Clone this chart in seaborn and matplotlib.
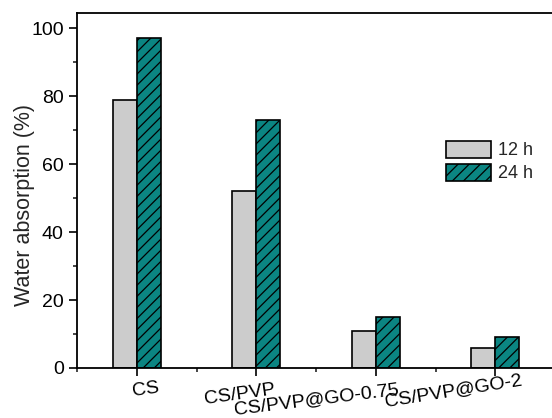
import matplotlib
matplotlib.use("Agg")
import matplotlib.pyplot as plt
import matplotlib.transforms as mtransforms
from matplotlib.ticker import MultipleLocator
from matplotlib.patches import Patch
import seaborn as sns
import pandas as pd

samples = ["CS", "CS/PVP", "CS/PVP@GO-0.75", "CS/PVP@GO-2"]
absorption_12h = [79, 52, 11, 6]
absorption_24h = [97, 73, 15, 9]
durations = ["12 h", "24 h"]

df = pd.DataFrame({
    "sample": samples * 2,
    "duration": [durations[0]] * len(samples) + [durations[1]] * len(samples),
    "absorption": absorption_12h + absorption_24h,
})

sns.set_style("white")
plt.rcParams["font.family"] = ["Liberation Sans", "DejaVu Sans"]
plt.rcParams["hatch.color"] = "#1a1a1a"
plt.rcParams["hatch.linewidth"] = 0.9

fig = plt.figure(figsize=(5.52, 4.18), dpi=100)
ax = fig.add_axes([77 / 552, 50 / 418, 478 / 552, 355 / 418])

palette = {"12 h": "#cccccc", "24 h": "#0b8582"}
sns.barplot(data=df, x="sample", y="absorption", hue="duration",
            palette=palette, width=0.4, edgecolor="black", linewidth=1.2,
            saturation=1, ax=ax, legend=False)

n = len(samples)
for i, bar in enumerate(ax.patches[:2 * n]):
    if i >= n:
        bar.set_hatch("///")

ax.set_xlim(-0.5, 3.5)
ax.set_ylim(0, 104.5)
ax.yaxis.set_major_locator(MultipleLocator(20))
ax.yaxis.set_minor_locator(MultipleLocator(10))
ax.xaxis.set_minor_locator(MultipleLocator(0.5))

for s in ax.spines.values():
    s.set_linewidth(1.3)
    s.set_color("black")

ax.tick_params(axis="both", which="major", direction="out", length=6,
               width=1.2, labelsize=14, colors="black", bottom=True, left=True)
ax.tick_params(axis="both", which="minor", direction="out", length=3,
               width=1.2, bottom=True, left=True)
ax.tick_params(axis="x", which="major", pad=2)

ax.set_xlabel("")
ax.set_ylabel("Water absorption (%)", fontsize=15.5)
ax.yaxis.set_label_coords(-0.088, 0.46)

ax.set_xticks(range(n))
ax.set_xticklabels(samples, ha="right", va="top", rotation_mode="anchor")
# per-label tilt and nudge (pixels) for the staggered category names
rotations = [8, 8, 7, 9]
shifts = [(21, 0), (18, -2), (22, -3), (25, 7)]
for lab, rot, (dx, dy) in zip(ax.get_xticklabels(), rotations, shifts):
    lab.set_rotation(rot)
    off = mtransforms.ScaledTranslation(dx / 100, dy / 100, fig.dpi_scale_trans)
    lab.set_transform(lab.get_transform() + off)

handles = [Patch(facecolor=palette["12 h"], edgecolor="black", linewidth=1.2),
           Patch(facecolor=palette["24 h"], edgecolor="black", linewidth=1.2,
                 hatch="///")]
ax.legend(handles, durations, loc="upper left", bbox_to_anchor=(0.771, 0.64),
          frameon=False, fontsize=13, handlelength=2.5, handleheight=1.05,
          handletextpad=0.4, labelspacing=0.25, borderaxespad=0, borderpad=0)

fig.savefig("out.png", dpi=100)
